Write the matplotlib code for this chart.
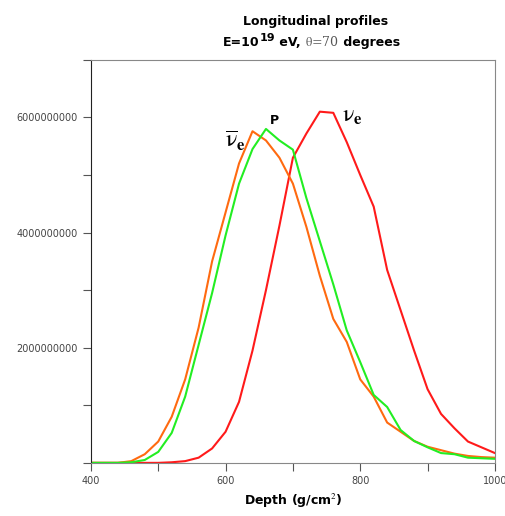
import matplotlib
matplotlib.use('Agg')
import matplotlib.pyplot as plt
import numpy as np

plt.rcParams['mathtext.fontset'] = 'stix'

# depth in g/cm2, values in particles
depth = [400, 420, 440, 460, 480, 500, 520, 540, 560, 580, 600, 620, 640, 660,
         680, 700, 720, 740, 760, 780, 800, 820, 840, 860, 880, 900, 920, 940,
         960, 980, 1000]
nu_e = [0, 0, 0, 0, 0, 0, 0.01, 0.03, 0.09, 0.25, 0.54, 1.06, 1.95, 3.0,
        4.12, 5.3, 5.72, 6.1, 6.08, 5.57, 5.0, 4.45, 3.35, 2.65, 1.95, 1.28,
        0.85, 0.6, 0.37, 0.27, 0.17]
nu_e_bar = [0, 0, 0, 0.03, 0.15, 0.37, 0.8, 1.45, 2.35, 3.5, 4.35, 5.2, 5.76,
            5.6, 5.3, 4.85, 4.1, 3.25, 2.5, 2.1, 1.45, 1.15, 0.7, 0.54, 0.38,
            0.28, 0.22, 0.16, 0.12, 0.1, 0.09]
proton = [0, 0, 0, 0.01, 0.05, 0.19, 0.52, 1.15, 2.05, 2.95, 3.95, 4.85, 5.45,
          5.8, 5.6, 5.44, 4.6, 3.85, 3.1, 2.3, 1.75, 1.18, 0.97, 0.57, 0.38,
          0.27, 0.17, 0.15, 0.09, 0.08, 0.07]
scale = 1e9

fig = plt.figure(figsize=(5.05, 5.16), dpi=100)
ax = fig.add_axes([0.180, 0.103, 0.800, 0.781])

ax.plot(depth, np.array(nu_e) * scale, color='#ff1a1a', lw=1.5)
ax.plot(depth, np.array(nu_e_bar) * scale, color='#ff6a10', lw=1.5)
ax.plot(depth, np.array(proton) * scale, color='#22ee22', lw=1.5)

ax.set_xlim(400, 1000)
ax.set_ylim(0, 7e9)

ax.set_xticks(np.arange(400, 1001, 100))
ax.set_xticklabels(['400', '', '600', '', '800', '', '1000'])
yt = np.arange(0, 7.01e9, 1e9)
ax.set_yticks(yt)
ax.set_yticklabels(['', '', '2000000000', '', '4000000000', '', '6000000000', ''])
ax.tick_params(axis='both', direction='out', length=6, width=0.8,
               labelsize=7, labelcolor='#444444', color='#555555')

ax.spines['left'].set_color('#222222')
for s in ['top', 'right', 'bottom']:
    ax.spines[s].set_color('#888888')

ax.set_xlabel('Depth (g/cm$^2$)', fontsize=9, fontweight='bold',
              family='DejaVu Sans', labelpad=4)

# title, two lines
fig.text(0.624, 0.958, 'Longitudinal profiles', ha='center', va='center',
         fontsize=9, fontweight='bold')
t1 = fig.text(0.442, 0.918, 'E=10', ha='left', va='center',
              fontsize=9, fontweight='bold')
t2 = ax.annotate('19', xy=(1, 0.45), xycoords=t1, ha='left', va='bottom',
                 fontsize=8, fontweight='bold', annotation_clip=False)
t3 = ax.annotate(' eV, ', xy=(1, 0.0), xycoords=(t2, t1), ha='left', va='bottom',
                 fontsize=9, fontweight='bold', annotation_clip=False)
t4 = ax.annotate(r'$\mathrm{\theta}$=70', xy=(1, 0.0), xycoords=t3, ha='left',
                 va='bottom', fontsize=9, color='#555555', family='DejaVu Serif',
                 annotation_clip=False)
ax.annotate(' degrees', xy=(1, 0.0), xycoords=(t4, t3), ha='left', va='bottom',
            fontsize=9, fontweight='bold', annotation_clip=False)

ax.text(614, 5.6e9, r'$\overline{\mathrm{\nu}}_{\mathbf{e}}$', fontsize=17,
        ha='center', va='center')
ax.text(672, 5.95e9, 'P', fontsize=9, fontweight='bold', ha='center', va='center')
ax.text(788, 6.05e9, r'$\mathrm{\nu}_{\mathbf{e}}$', fontsize=17,
        ha='center', va='center')

fig.savefig('out.png', dpi=100)
